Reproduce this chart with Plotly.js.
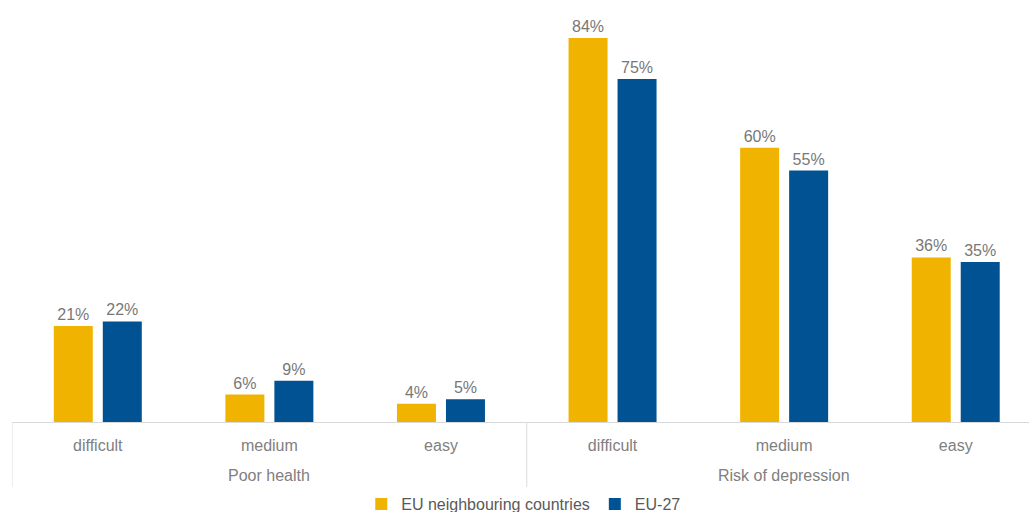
<!DOCTYPE html>
<html><head><meta charset="utf-8">
<script src="https://cdn.plot.ly/plotly-3.0.1.min.js"></script>
<style>html,body{margin:0;padding:0;background:#fff}#chart{width:1029px;height:512px}</style>
</head><body><div id="chart"></div>
<script>
const groupNames = ["Poor health", "Risk of depression"];
const levels = ["difficult","medium","easy","difficult","medium","easy"];
const neighbours = [21, 6, 4, 84, 60, 36];
const eu27 = [22, 9, 5, 75, 55, 35];
const seriesNames = ["EU neighbouring countries", "EU-27"];

const positions = levels.map((_, i) => i);
const labelFont = {family: "Liberation Sans, Arial, sans-serif", size: 16, color: "#787878"};
function mk(vals, name, color){
  return {type:"bar", x:positions, y:vals, name:name,
    marker:{color:color}, text: vals.map(v=>v+"%"), textposition:"outside",
    textfont: labelFont, cliponaxis:false, hoverinfo:"skip"};
}
const data = [mk(neighbours, seriesNames[0], "#F0B400"), mk(eu27, seriesNames[1], "#005293")];

const plotH = 422;
const groupLabelY = (plotH - 475) / plotH;
const dividerBottom = (plotH - 487) / plotH;
const annotations = groupNames.map((g, k) => ({
  text: g, x: k * 3 + 1, xref: "x", y: groupLabelY, yref: "paper",
  yanchor: "middle", xanchor: "center", showarrow: false,
  font: {size: 16, color: "#808080"}
}));
const shapes = [-0.5, 2.5, 5.5].map(xv => ({
  type: "line", xref: "x", yref: "paper", x0: xv, x1: xv, y0: 0, y1: dividerBottom,
  line: {color: "#dcdcdc", width: 1}
}));

const layout = {
  width:1029, height:512, margin:{l:12, r:0, t:0, b:90, autoexpand:false},
  paper_bgcolor:"#fff", plot_bgcolor:"#fff",
  barmode:"group", bargap:0.429, bargroupgap:0.204,
  font:{family:"Liberation Sans, Arial, sans-serif", size:15, color:"#7f7f7f"},
  xaxis:{range:[-0.5, 5.427], showline:true, linecolor:"#d9d9d9", linewidth:1, automargin:false,
    tickmode:"array", tickvals:positions, ticktext:levels,
    ticks:"outside", ticklen:9, tickcolor:"rgba(0,0,0,0)",
    showgrid:false, zeroline:false, tickfont:{size:16, color:"#808080"}},
  yaxis:{range:[0, 92.3], visible:false, showgrid:false, zeroline:false, automargin:false},
  annotations: annotations, shapes: shapes,
  showlegend:true,
  legend:{orientation:"h", x:0.509, xanchor:"center", xref:"container", y:(512-504)/512, yref:"container", yanchor:"middle",
    font:{size:16, color:"#595959"}, traceorder:"normal", itemwidth:30, entrywidthmode:"pixels"}
};
Plotly.newPlot("chart", data, layout, {displayModeBar:false, staticPlot:true});
</script></body></html>
